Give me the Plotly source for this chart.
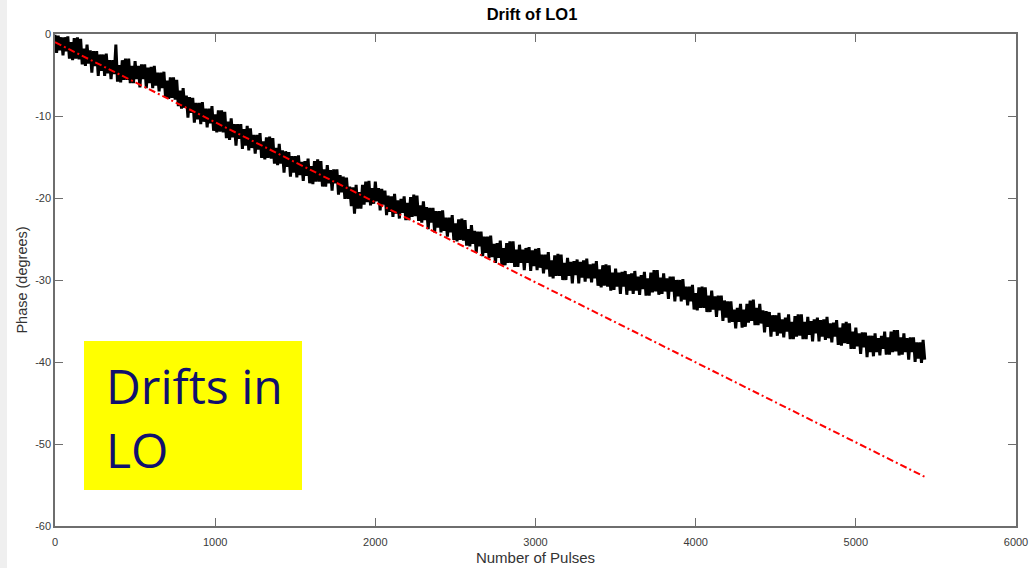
import plotly.graph_objects as go

# Measured phase of LO1, one sample every 10 pulses (0 ... 5430)
pulses = list(range(0, 5440, 10))
phase = [
    -0.1, -2.3, -0.2, -2.0, -0.4, -2.6, -0.4, -2.1, -0.3, -3.0,
    -1.0, -3.2, -0.5, -3.0, -0.4, -3.1, -0.6, -3.7, -1.8, -3.9,
    -1.3, -3.6, -2.0, -4.7, -2.1, -3.9, -2.1, -5.1, -2.5, -4.5,
    -2.5, -5.1, -2.4, -4.8, -3.2, -5.5, -3.2, -4.9, -1.3, -5.8,
    -3.8, -5.9, -3.2, -5.6, -3.0, -5.6, -3.0, -6.0, -3.9, -6.0,
    -3.3, -5.5, -3.9, -6.5, -3.7, -5.5, -3.7, -6.6, -4.1, -6.0,
    -4.0, -6.6, -3.9, -6.3, -4.7, -7.0, -4.7, -6.6, -4.6, -7.7,
    -5.7, -7.9, -5.3, -7.8, -5.3, -8.0, -5.6, -8.8, -6.9, -9.1,
    -6.6, -9.0, -7.5, -10.2, -7.7, -9.6, -7.8, -10.8, -8.4, -10.4,
    -8.4, -11.0, -8.3, -10.7, -9.1, -11.4, -9.1, -10.9, -8.8, -11.8,
    -9.8, -12.0, -9.3, -11.9, -9.3, -12.0, -9.5, -12.7, -10.7, -12.9,
    -10.3, -12.6, -11.0, -13.6, -11.0, -12.8, -11.0, -14.0, -11.6, -13.6,
    -11.2, -14.2, -11.5, -13.9, -12.3, -14.6, -12.3, -14.1, -12.1, -15.1,
    -13.1, -15.3, -12.6, -15.1, -12.5, -15.2, -12.7, -15.8, -13.9, -16.0,
    -13.4, -15.8, -14.2, -16.9, -14.3, -16.2, -14.4, -17.4, -14.9, -16.9,
    -14.9, -17.5, -14.8, -17.2, -15.6, -17.9, -15.5, -17.3, -15.2, -18.2,
    -16.1, -18.3, -15.5, -18.0, -15.3, -18.0, -15.5, -18.6, -16.5, -18.6,
    -16.0, -18.2, -16.6, -19.1, -16.5, -18.2, -16.5, -19.6, -17.2, -19.3,
    -17.4, -20.1, -17.5, -20.1, -18.6, -21.0, -18.7, -21.9, -18.4, -21.3,
    -19.3, -21.3, -18.4, -20.8, -18.0, -20.5, -17.9, -20.9, -18.8, -20.7,
    -18.0, -20.4, -18.8, -21.5, -18.9, -20.8, -19.1, -22.1, -19.7, -21.7,
    -19.8, -22.3, -19.5, -21.9, -20.3, -22.5, -20.1, -21.8, -19.8, -22.7,
    -20.6, -22.7, -19.9, -22.3, -19.6, -22.2, -19.7, -22.8, -20.9, -23.0,
    -20.4, -22.7, -21.1, -23.8, -21.2, -23.0, -21.2, -24.2, -21.6, -23.6,
    -21.6, -24.2, -21.5, -24.0, -22.4, -24.7, -22.4, -24.2, -22.1, -25.1,
    -23.1, -25.3, -22.6, -25.1, -22.5, -25.2, -22.7, -25.8, -23.8, -25.9,
    -23.3, -25.6, -24.0, -26.7, -24.1, -25.9, -24.1, -27.1, -24.7, -26.7,
    -24.7, -27.3, -24.6, -27.2, -25.6, -27.9, -25.5, -27.3, -25.2, -28.2,
    -26.1, -28.2, -25.5, -27.9, -25.3, -27.9, -25.3, -28.4, -26.3, -28.4,
    -25.7, -27.9, -26.3, -28.8, -26.1, -27.9, -26.0, -28.9, -26.4, -28.3,
    -26.2, -28.8, -26.1, -28.5, -26.9, -29.2, -26.9, -28.7, -26.6, -29.6,
    -27.6, -29.8, -27.0, -29.5, -26.8, -29.5, -26.9, -30.0, -27.9, -30.0,
    -27.3, -29.5, -27.8, -30.4, -27.7, -29.4, -27.5, -30.4, -27.8, -29.7,
    -27.6, -30.2, -27.4, -29.8, -28.1, -30.3, -28.0, -29.8, -27.7, -30.7,
    -28.7, -30.9, -28.2, -30.7, -28.1, -30.8, -28.2, -31.3, -29.1, -31.2,
    -28.6, -30.8, -29.1, -31.7, -29.0, -30.8, -28.9, -31.8, -29.3, -31.3,
    -29.2, -31.7, -28.9, -31.3, -29.6, -31.8, -29.4, -31.1, -29.0, -31.9,
    -29.8, -31.9, -29.1, -31.5, -28.8, -31.4, -28.8, -31.8, -29.7, -31.7,
    -29.2, -31.4, -29.8, -32.3, -29.6, -31.4, -29.6, -32.6, -30.0, -32.0,
    -30.0, -32.6, -29.9, -32.4, -30.8, -33.1, -30.8, -32.6, -30.6, -33.6,
    -31.6, -33.7, -30.9, -33.4, -30.8, -33.4, -30.9, -33.9, -31.9, -33.9,
    -31.3, -33.6, -32.0, -34.5, -31.9, -33.7, -31.9, -35.0, -32.5, -34.6,
    -32.6, -35.2, -32.6, -35.1, -33.6, -35.9, -33.4, -35.1, -32.9, -35.8,
    -33.6, -35.7, -32.9, -35.2, -32.5, -35.0, -32.4, -35.5, -33.4, -35.5,
    -32.9, -35.3, -33.7, -36.4, -33.8, -35.7, -33.9, -36.9, -34.3, -36.3,
    -34.3, -36.8, -34.0, -36.5, -34.8, -37.0, -34.6, -36.3, -34.2, -37.2,
    -35.1, -37.2, -34.4, -36.9, -34.2, -36.8, -34.2, -37.2, -35.1, -37.2,
    -34.5, -36.7, -35.0, -37.5, -34.8, -36.5, -34.6, -37.5, -34.9, -36.9,
    -34.8, -37.3, -34.5, -37.1, -35.3, -37.6, -35.2, -36.9, -34.9, -37.9,
    -35.8, -38.0, -35.3, -37.7, -35.1, -37.8, -35.3, -38.4, -36.3, -38.4,
    -35.8, -38.1, -36.5, -39.0, -36.4, -38.2, -36.4, -39.4, -36.8, -38.8,
    -36.8, -39.3, -36.5, -38.8, -37.1, -39.2, -36.8, -38.4, -36.3, -39.1,
    -37.0, -39.1, -36.3, -38.8, -36.1, -38.7, -36.1, -39.2, -37.0, -39.1,
    -36.5, -38.8, -37.1, -39.7, -37.0, -38.8, -37.0, -40.0, -37.6, -39.6,
    -37.6, -40.1, -37.3, -39.7,
]

# Linear drift fitted to the early pulses, extended to the last pulse
fit_pulses = [0, 5430]
fit_phase = [-1.0, -54.0]

x_ticks = [0, 1000, 2000, 3000, 4000, 5000, 6000]
x_tick_text = ["0", "1000", "2000", "3000", "4000", "5000", "6000"]
y_ticks = [0, -10, -20, -30, -40, -50, -60]
y_tick_text = ["0", "-10", "-20", "-30", "-40", "-50", "-60"]

axis_grey = "#6e6e6e"
sans = "Liberation Sans, Arial, sans-serif"
tick_font = dict(family=sans, size=11, color="#3a3a3a")

fig = go.Figure()
fig.add_trace(go.Scatter(
    x=pulses, y=phase, mode="lines",
    line=dict(color="black", width=3),
    showlegend=False, hoverinfo="skip",
))
fig.add_trace(go.Scatter(
    x=fit_pulses, y=fit_phase, mode="lines",
    line=dict(color="#ff0000", width=2, dash="7px,3px,2px,3px"),
    showlegend=False, hoverinfo="skip",
))

fig.update_layout(
    width=1029, height=568,
    margin=dict(l=55, r=13, t=34, b=42),
    paper_bgcolor="white", plot_bgcolor="white",
    title=dict(
        text="<b>Drift of LO1</b>",
        x=(532 / 1029), xanchor="center", y=1 - 14 / 568, yanchor="middle",
        font=dict(family=sans, size=16.5, color="black"),
    ),
    xaxis=dict(
        range=[0, 6000], tickvals=x_ticks, ticktext=x_tick_text,
        ticks="inside", ticklen=8, tickcolor=axis_grey, tickwidth=1,
        showline=True, linecolor=axis_grey, linewidth=1.5, mirror="ticks",
        showgrid=False, zeroline=False, tickfont=tick_font,
        ticklabelstandoff=5, automargin=False,
        title=dict(text="Number of Pulses", standoff=6,
                   font=dict(family=sans, size=15, color="#333333")),
    ),
    yaxis=dict(
        range=[-60, 0], tickvals=y_ticks, ticktext=y_tick_text,
        ticks="inside", ticklen=8, tickcolor=axis_grey, tickwidth=1,
        showline=True, linecolor=axis_grey, linewidth=1.5, mirror="ticks",
        showgrid=False, zeroline=False, tickfont=tick_font, automargin=False,
        title=dict(text="Phase (degrees)", standoff=4,
                   font=dict(family=sans, size=14.5, color="#333333")),
    ),
)

# Light grey strip along the left edge of the page
fig.add_shape(type="rect", xref="paper", yref="paper",
              x0=-55 / 961, x1=-48 / 961, y0=-42 / 492, y1=1 + 34 / 492,
              line=dict(width=0), fillcolor="#efefef", layer="below")

# Yellow callout box
fig.add_shape(type="rect", xref="paper", yref="paper",
              x0=29 / 961, x1=247 / 961, y0=36 / 492, y1=185 / 492,
              line=dict(width=0), fillcolor="#ffff00", layer="above")

callout_font = dict(family="Open Sans, Noto Sans, sans-serif", size=48, color="#10106e")
fig.add_annotation(text="Drifts in", xref="paper", yref="paper",
                   x=49 / 961, y=(526 - 385) / 492, xanchor="left", yanchor="middle",
                   showarrow=False, font=callout_font)
fig.add_annotation(text="LO", xref="paper", yref="paper",
                   x=49 / 961, y=(526 - 450) / 492, xanchor="left", yanchor="middle",
                   showarrow=False, font=callout_font)

fig.write_html("out.html")
